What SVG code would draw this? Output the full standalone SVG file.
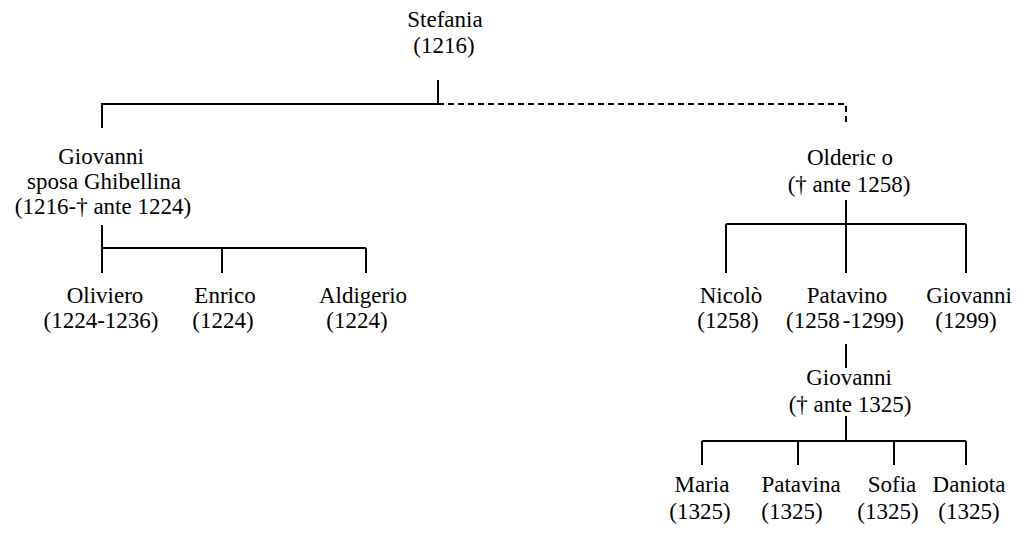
<svg xmlns="http://www.w3.org/2000/svg" width="1021" height="534" viewBox="0 0 1021 534">
<rect width="1021" height="534" fill="#fff"/>
<g id="connectors" stroke="#000" stroke-width="2" fill="none">
<path d="M438,80V104H102V128"/>
<path stroke-dasharray="6 4" d="M438,104H846V126"/>
<path d="M102,225V248M102,248H366M102,248V273M222,248V273M366,248V273"/>
<path d="M846,200V273M726,224H966M726,224V273M966,224V273"/>
<path d="M846,344V368"/>
<path d="M846,416V441M702,441H966M702,441V465M798,441V465M894,441V465M966,441V465"/>
</g>
<g font-family="'Liberation Serif', serif" font-size="23" fill="#000" text-anchor="middle">
<g id="stefania"><text x="445" y="27">Stefania</text><text x="444" y="53">(1216)</text></g>
<g id="giovanni1"><text x="101" y="164">Giovanni</text><text x="104" y="189">sposa Ghibellina</text><text x="103" y="214">(1216-&#8224; ante 1224)</text></g>
<g id="olderico"><text x="850" y="165">Olderic o</text><text x="849" y="192">(&#8224; ante 1258)</text></g>
<g id="oliviero"><text x="105" y="303">Oliviero</text><text x="101" y="328">(1224-1236)</text></g>
<g id="enrico"><text x="225" y="303">Enrico</text><text x="223" y="328">(1224)</text></g>
<g id="aldigerio"><text x="363" y="303">Aldigerio</text><text x="357" y="328">(1224)</text></g>
<g id="nicolo"><text x="731" y="303">Nicol&#242;</text><text x="728" y="328">(1258)</text></g>
<g id="patavino"><text x="847" y="303">Patavino</text><text x="845" y="328">(1258<tspan dx="3">-1299)</tspan></text></g>
<g id="giovanni2"><text x="969" y="303">Giovanni</text><text x="966" y="328">(1299)</text></g>
<g id="giovanni3"><text x="849" y="385">Giovanni</text><text x="850" y="412">(&#8224; ante 1325)</text></g>
<g id="maria"><text x="702" y="492">Maria</text><text x="700" y="519">(1325)</text></g>
<g id="patavina"><text x="801" y="492">Patavina</text><text x="792" y="519">(1325)</text></g>
<g id="sofia"><text x="892" y="492">Sofia</text><text x="888" y="519">(1325)</text></g>
<g id="daniota"><text x="969" y="492">Daniota</text><text x="969" y="519">(1325)</text></g>
</g>
</svg>
